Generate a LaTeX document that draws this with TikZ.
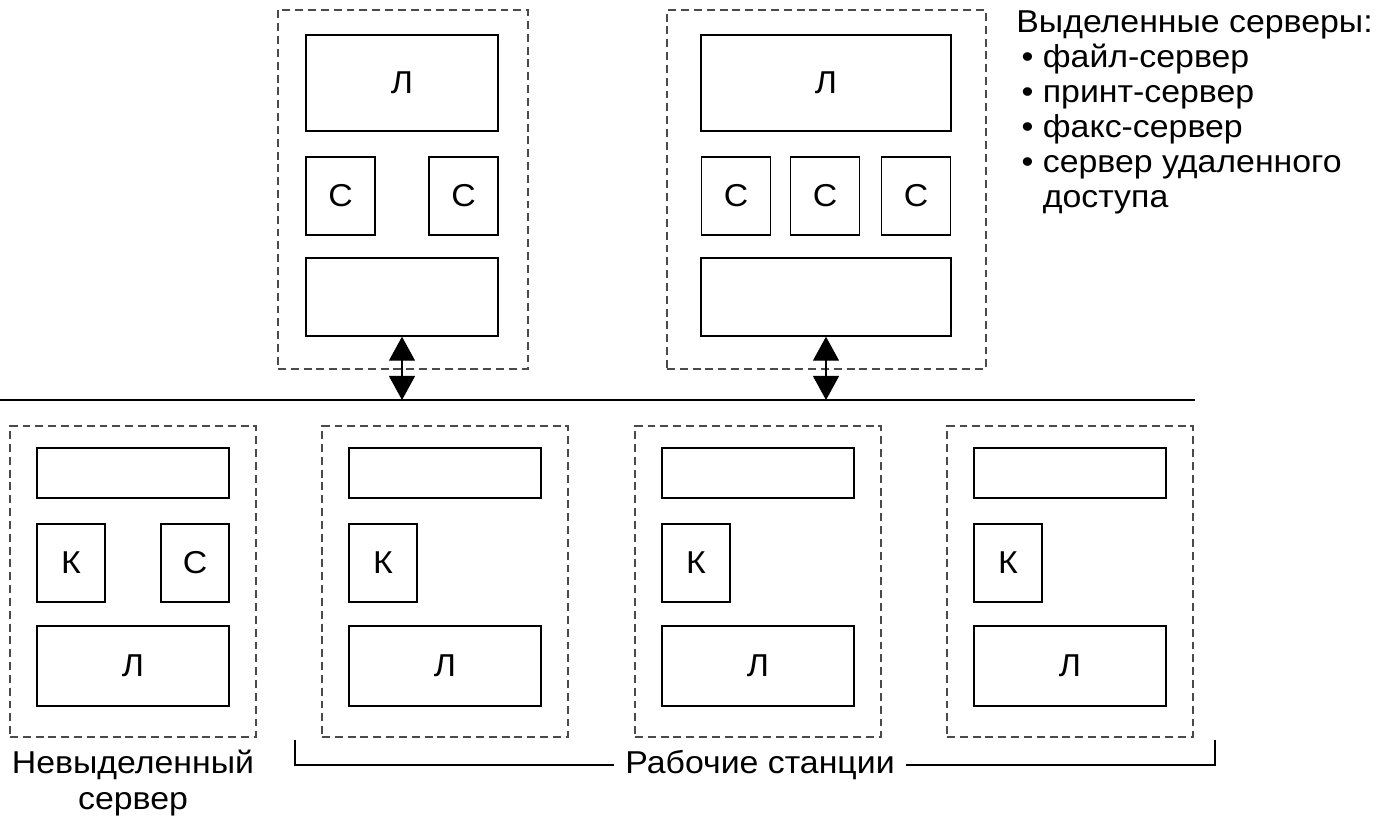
\documentclass[tikz,border=0pt]{standalone}
\usepackage{fontspec}
\setmainfont[FakeStretch=1.07]{Liberation Sans}
\usepackage{tikz}
\usetikzlibrary{arrows.meta,positioning}
\definecolor{frame70}{HTML}{4A4A4A}
\tikzset{
  hostbox/.style={
    rectangle, draw=frame70, line width=0.7pt,
    dash pattern=on 4.5pt off 2.8pt,
    inner sep=0pt
  },
  partbox/.style={
    rectangle, draw=black, line width=0.8pt,
    minimum width=#1, inner sep=0pt,
    font=\fontsize{18}{20}\selectfont
  },
  partbox/.default=1.38cm,
  linkarrow/.style={
    {Triangle[width=0.52cm,length=0.48cm]}-{Triangle[width=0.52cm,length=0.48cm]},
    line width=0.6pt
  },
  caption/.style={font=\fontsize{18}{20}\selectfont, align=center, inner sep=2pt},
}
\begin{document}
\begin{tikzpicture}
\useasboundingbox (0,0) rectangle (27.76,-16.32);
% dedicated servers
\node[hostbox, minimum width=5cm, minimum height=7.18cm] (srvA) at (8.06,-3.79) {};
\node[partbox=3.84cm, minimum height=1.92cm] (srvAos) at (8.04,-1.66) {Л};
\node[partbox, minimum height=1.56cm] (srvAs1) at (6.81,-3.92) {С};
\node[partbox, minimum height=1.56cm] (srvAs2) at (9.27,-3.92) {С};
\node[partbox=3.84cm, minimum height=1.56cm] (srvAnet) at (8.04,-5.94) {};
\node[hostbox, minimum width=6.38cm, minimum height=7.18cm] (srvB) at (16.53,-3.79) {};
\node[partbox=5cm, minimum height=1.92cm] (srvBos) at (16.52,-1.66) {Л};
\node[partbox, minimum height=1.56cm] (srvBs1) at (14.72,-3.92) {С};
\node[partbox, minimum height=1.56cm] (srvBs2) at (16.5,-3.92) {С};
\node[partbox, minimum height=1.56cm] (srvBs3) at (18.32,-3.92) {С};
\node[partbox=5cm, minimum height=1.56cm] (srvBnet) at (16.52,-5.94) {};
% bus
\coordinate (busL) at (0,-8);
\coordinate (busR) at (23.9,-8);
\draw[line width=0.8pt] (busL) -- (busR);
\coordinate (tapA) at (srvAnet.south |- busL);
\coordinate (tapB) at (srvBnet.south |- busL);
\draw[linkarrow] (srvAnet.south) -- (tapA);
\draw[linkarrow] (srvBnet.south) -- (tapB);
% non-dedicated server
\node[hostbox, minimum width=4.92cm, minimum height=6.22cm] (ns) at (2.66,-11.63) {};
\node[partbox=3.84cm, minimum height=1cm] (nsnet) at ([yshift=2.17cm]ns.center) {};
\node[partbox=1.36cm, minimum height=1.56cm] (nsk) at ([xshift=-1.24cm,yshift=0.37cm]ns.center) {К};
\node[partbox=1.36cm, minimum height=1.56cm] (nss) at ([xshift=1.24cm,yshift=0.37cm]ns.center) {С};
\node[partbox=3.84cm, minimum height=1.6cm] (nsos) at ([yshift=-1.69cm]ns.center) {Л};
% workstations
\node[hostbox, minimum width=4.92cm, minimum height=6.22cm] (ws1) at (8.9,-11.63) {};
\node[partbox=3.84cm, minimum height=1cm] (ws1net) at ([yshift=2.17cm]ws1.center) {};
\node[partbox=1.36cm, minimum height=1.56cm] (ws1k) at ([xshift=-1.24cm,yshift=0.37cm]ws1.center) {К};
\node[partbox=3.84cm, minimum height=1.6cm] (ws1os) at ([yshift=-1.69cm]ws1.center) {Л};
\node[hostbox, minimum width=4.92cm, minimum height=6.22cm] (ws2) at (15.16,-11.63) {};
\node[partbox=3.84cm, minimum height=1cm] (ws2net) at ([yshift=2.17cm]ws2.center) {};
\node[partbox=1.36cm, minimum height=1.56cm] (ws2k) at ([xshift=-1.24cm,yshift=0.37cm]ws2.center) {К};
\node[partbox=3.84cm, minimum height=1.6cm] (ws2os) at ([yshift=-1.69cm]ws2.center) {Л};
\node[hostbox, minimum width=4.92cm, minimum height=6.22cm] (ws3) at (21.4,-11.63) {};
\node[partbox=3.84cm, minimum height=1cm] (ws3net) at ([yshift=2.17cm]ws3.center) {};
\node[partbox=1.36cm, minimum height=1.56cm] (ws3k) at ([xshift=-1.24cm,yshift=0.37cm]ws3.center) {К};
\node[partbox=3.84cm, minimum height=1.6cm] (ws3os) at ([yshift=-1.69cm]ws3.center) {Л};
% captions
\node[caption] (nslabel) at (2.66,-15.66) {Невыделенный\\сервер};
\node[caption, inner sep=6pt] (wslabel) at (15.2,-15.3) {Рабочие станции};
\coordinate (brL) at (5.9,-14.8);
\coordinate (brR) at (24.3,-14.8);
\draw[line width=0.8pt] (brL) |- (wslabel.west);
\draw[line width=0.8pt] (wslabel.east) -| (brR);
\node[anchor=north west, font=\fontsize{18}{20}\selectfont, align=left, inner sep=0pt] (legend) at (20.32,-0.2)
  {Выделенные серверы:\\
   \,• файл-сервер\\
   \,• принт-сервер\\
   \,• факс-сервер\\
   \,• сервер удаленного\\
   \hphantom{\,• }доступа};
\end{tikzpicture}
\end{document}
